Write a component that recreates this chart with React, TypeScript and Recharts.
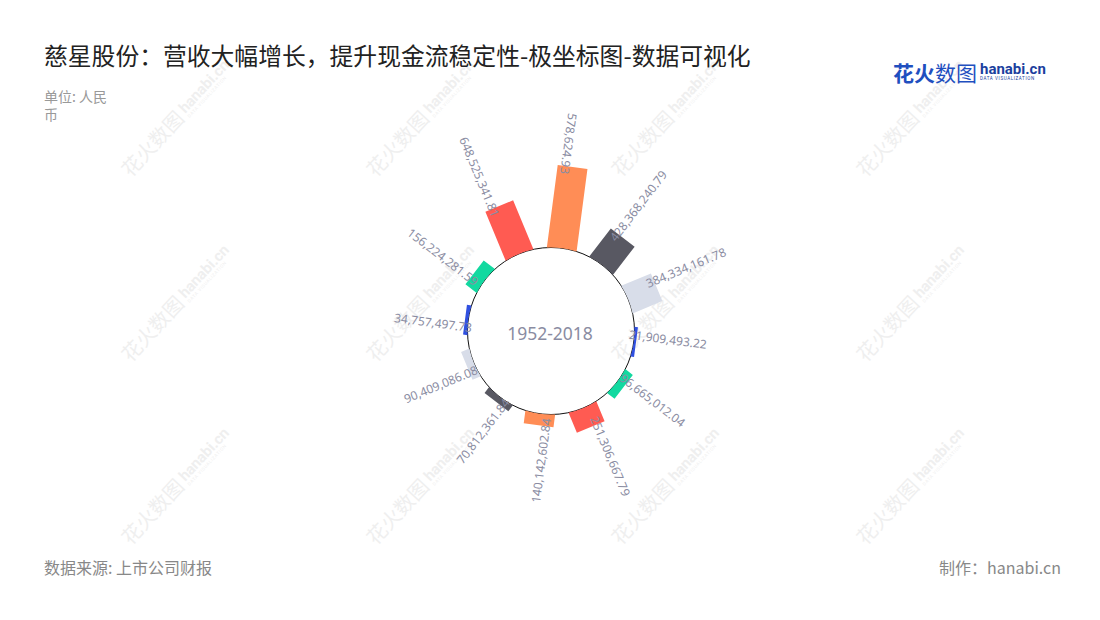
import React from 'react';
import { RadialBarChart, RadialBar, PolarAngleAxis, PolarRadiusAxis, PolarGrid } from 'recharts';

const categories = [
  '648,525,341.81', '578,624.93', '428,368,240.79', '384,334,161.78',
  '21,909,493.22', '96,665,012.04', '251,306,667.79', '140,142,602.84',
  '70,812,361.84', '90,409,086.08', '34,757,497.73', '156,224,281.59',
];
const values = [
  648525341.81, 1030000000, 428368240.79, 384334161.78,
  21909493.22, 96665012.04, 251306667.79, 140142602.84,
  70812361.84, 90409086.08, 34757497.73, 156224281.59,
];
const palette = ['#ff5b52', '#ff8d56', '#585862', '#d8dde9', '#3050e0', '#12d9a0'];
const centerLabel = '1952-2018';

const data = categories.map((c, i) => ({ name: c, value: values[i], color: palette[i % palette.length] }));

const CX = 551;
const CY = 331;
const CIRCLE_R = 83.5;
const HALF_W = 15;
const LABEL_COLOR = '#8a8ca2';
const FONT = '"Noto Sans", "Noto Sans CJK SC", sans-serif';

const norm = (a: number) => {
  let x = a % 360;
  if (x > 180) x -= 360;
  if (x <= -180) x += 360;
  return x;
};

const RectBar = (props: any) => {
  const { cx, cy, outerRadius, startAngle, endAngle } = props;
  const payload = props.payload || {};
  const fill = payload.color || props.fill;
  const text = payload.name ?? props.name;
  const mid = (startAngle + endAngle) / 2;
  const rad = (mid * Math.PI) / 180;
  const ux = Math.cos(rad);
  const uy = -Math.sin(rad);
  const px = -uy;
  const py = ux;
  const d0 = Math.sqrt(CIRCLE_R * CIRCLE_R - HALF_W * HALF_W);
  const L = outerRadius;
  const p1 = [cx + ux * d0 + px * HALF_W, cy + uy * d0 + py * HALF_W];
  const p2 = [cx + ux * L + px * HALF_W, cy + uy * L + py * HALF_W];
  const p3 = [cx + ux * L - px * HALF_W, cy + uy * L - py * HALF_W];
  const p4 = [cx + ux * d0 - px * HALF_W, cy + uy * d0 - py * HALF_W];
  const d = `M${p1[0]},${p1[1]} L${p2[0]},${p2[1]} L${p3[0]},${p3[1]} L${p4[0]},${p4[1]} A${CIRCLE_R},${CIRCLE_R} 0 0 1 ${p1[0]},${p1[1]} Z`;

  const ar = L - 8;
  const off = 7;
  const lx = cx + ux * ar + -Math.sin(rad) * off;
  const ly = cy + uy * ar + -Math.cos(rad) * off;
  let phi = norm(-mid);
  let anchor: 'start' | 'end' = 'start';
  if (!(phi > -80 && phi <= 90)) {
    phi = norm(phi + 180);
    anchor = 'end';
  }
  return (
    <g>
      <path d={d} fill={fill} />
      <text
        x={lx}
        y={ly}
        transform={`rotate(${phi} ${lx} ${ly})`}
        textAnchor={anchor}
        dominantBaseline="central"
        fontSize={12}
        fontFamily={FONT}
        fill={LABEL_COLOR}
      >
        {text}
      </text>
    </g>
  );
};

const wmCols = [133, 378, 623, 868];
const wmRows = [180, 365, 548];

const Watermark = ({ x, y }: { x: number; y: number }) => (
  <div
    style={{
      position: 'absolute',
      left: x,
      top: y - 22,
      transformOrigin: '0 22px',
      transform: 'rotate(-47deg)',
      whiteSpace: 'nowrap',
      color: '#efefef',
      display: 'flex',
      alignItems: 'flex-end',
      gap: 4,
    }}
  >
    <span style={{ fontFamily: '"Noto Sans CJK SC"', fontSize: 20, fontWeight: 400, lineHeight: '22px' }}>花火数图</span>
    <span style={{ display: 'flex', flexDirection: 'column', lineHeight: 1 }}>
      <span style={{ fontFamily: 'Roboto', fontSize: 15, fontWeight: 700 }}>hanabi.cn</span>
      <span style={{ fontFamily: 'Roboto', fontSize: 4.5, letterSpacing: 0.6 }}>DATA VISUALIZATION</span>
    </span>
  </div>
);

export default function App() {
  return (
    <div
      style={{
        position: 'absolute',
        left: 0,
        top: 0,
        width: 1100,
        height: 620,
        background: '#fff',
        overflow: 'hidden',
        fontFamily: '"Noto Sans CJK SC", "Noto Sans", sans-serif',
      }}
    >
      {wmCols.map((x) => wmRows.map((y) => <Watermark key={`${x}-${y}`} x={x} y={y} />))}

      <div style={{ position: 'absolute', left: 44, top: 42, fontSize: 23.8, lineHeight: '26px', color: '#222', fontWeight: 400, whiteSpace: 'nowrap' }}>
        慈星股份：营收大幅增长，提升现金流稳定性-极坐标图-数据可视化
      </div>
      <div style={{ position: 'absolute', left: 44, top: 87, fontSize: 14, lineHeight: '18px', color: '#999' }}>
        单位: 人民
        <br />币
      </div>

      <div style={{ position: 'absolute', left: 893, top: 59, display: 'flex', alignItems: 'center', gap: 3, whiteSpace: 'nowrap' }}>
        <span style={{ fontSize: 21, lineHeight: '26px', color: '#1f4fbf' }}>
          <b>花火</b>数图
        </span>
        <span style={{ display: 'flex', flexDirection: 'column', lineHeight: 1 }}>
          <span style={{ fontFamily: 'Roboto', fontSize: 15, fontWeight: 700, color: '#1c3f9e' }}>hanabi.cn</span>
          <span style={{ fontFamily: 'Roboto', fontSize: 4.5, letterSpacing: 0.6, color: '#1c3f9e' }}>DATA VISUALIZATION</span>
        </span>
      </div>

      <div style={{ position: 'absolute', left: 0, top: 0 }}>
        <RadialBarChart
          width={1100}
          height={620}
          data={data}
          layout="centric"
          cx={CX}
          cy={CY}
          innerRadius={84}
          outerRadius={202.5}
          startAngle={97.5}
          endAngle={-262.5}
          margin={{ top: 0, right: 0, bottom: 0, left: 0 }}
        >
          <PolarGrid gridType="circle" radialLines={false} polarRadius={[CIRCLE_R]} stroke="#111" strokeWidth={1} />
          <PolarAngleAxis type="category" dataKey="name" tick={false} axisLine={false} tickLine={false} />
          <PolarRadiusAxis type="number" domain={[0, 1500000000]} tick={false} axisLine={false} tickLine={false} />
          <RadialBar dataKey="value" isAnimationActive={false} shape={RectBar} />
        </RadialBarChart>
      </div>

      <div
        style={{
          position: 'absolute',
          left: 550,
          top: CY + 2,
          transform: 'translate(-50%, -50%)',
          fontFamily: '"Noto Sans", sans-serif',
          fontSize: 17.5,
          color: LABEL_COLOR,
          whiteSpace: 'nowrap',
        }}
      >
        {centerLabel}
      </div>

      <div style={{ position: 'absolute', left: 44, top: 556, fontSize: 16, lineHeight: '22px', color: '#888', whiteSpace: 'nowrap' }}>
        数据来源: 上市公司财报
      </div>
      <div style={{ position: 'absolute', right: 39, top: 556, fontSize: 16, lineHeight: '22px', color: '#888', whiteSpace: 'nowrap' }}>
        制作：hanabi.cn
      </div>
    </div>
  );
}
